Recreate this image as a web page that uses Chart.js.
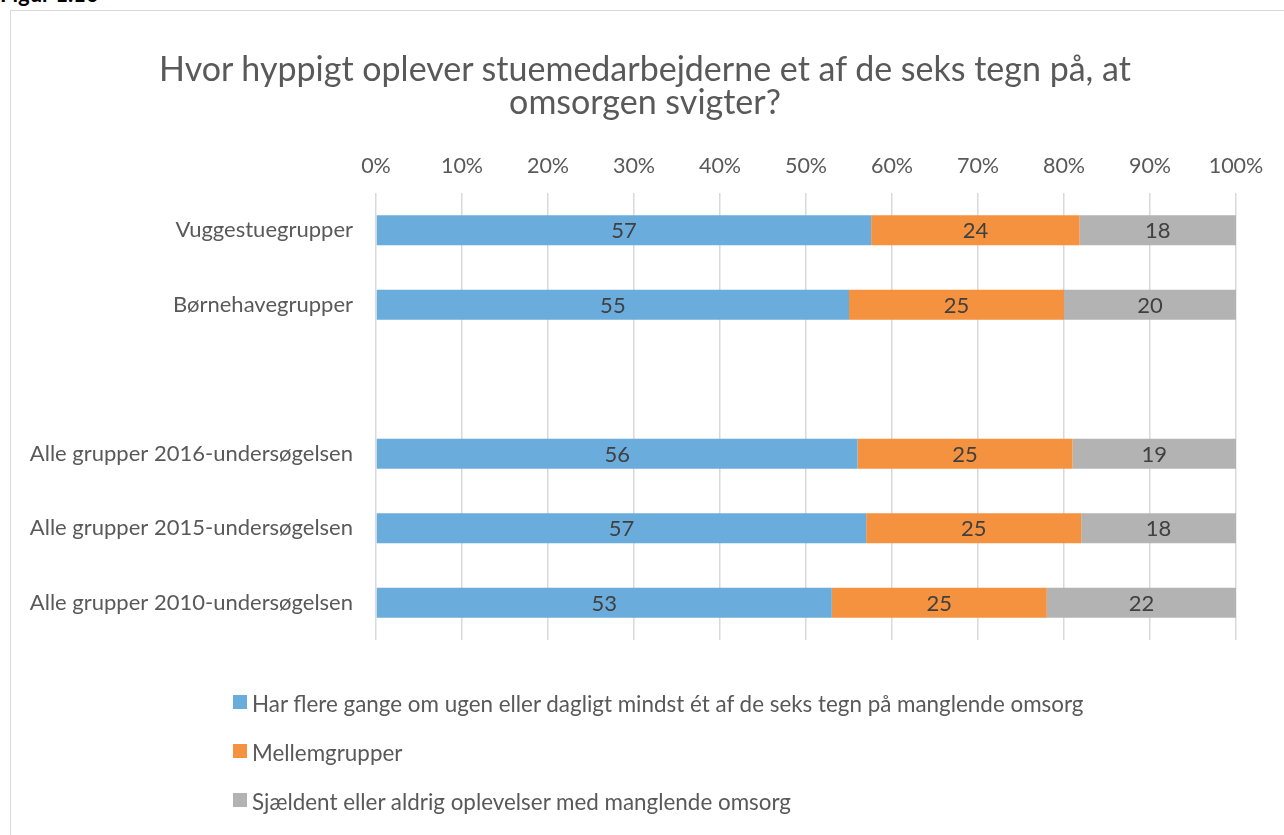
<!DOCTYPE html>
<html>
<head>
<meta charset="utf-8">
<script src="https://cdn.jsdelivr.net/npm/chart.js@4"></script>
<style>
  html, body { margin: 0; padding: 0; background: #fff; overflow: hidden; }
  body { width: 1284px; height: 835px; position: relative; font-family: Lato, "Open Sans", sans-serif; }
  #fig { position: absolute; left: 0; top: -20px; font-weight: bold; font-size: 22px; color: #000; }
  #frame { position: absolute; left: 10px; top: 10px; width: 1400px; height: 900px; border-left: 1.5px solid #d9d9d9; border-top: 1.5px solid #d9d9d9; }
  #wrap { position: absolute; left: 0; top: 0; width: 1284px; height: 835px; }
  #title { position: absolute; left: 145px; width: 1000px; top: 51px; text-align: center; color: #595959; font-size: 34px; line-height: 33px; }
  #legend { position: absolute; left: 233px; top: 690px; color: #595959; font-size: 22.4px; }
  .li { height: 49px; line-height: 27px; display: flex; align-items: flex-start; }
  .sw { width: 14px; height: 14px; margin-top: 5px; margin-right: 5px; flex: none; }
</style>
</head>
<body>
<div id="fig">Figur 1.10</div>
<div id="frame"></div>
<div id="wrap"><canvas id="c" width="1284" height="835"></canvas></div>
<div id="title"></div>
<div id="legend"></div>
<script>
const titleLines = ['Hvor hyppigt oplever stuemedarbejderne et af de seks tegn på, at', 'omsorgen svigter?'];
const categories = ['Vuggestuegrupper', 'Børnehavegrupper', '', 'Alle grupper 2016-undersøgelsen', 'Alle grupper 2015-undersøgelsen', 'Alle grupper 2010-undersøgelsen'];
const seriesNames = ['Har flere gange om ugen eller dagligt mindst ét af de seks tegn på manglende omsorg', 'Mellemgrupper', 'Sjældent eller aldrig oplevelser med manglende omsorg'];
const seriesColors = ['#6aacdc', '#f4923f', '#b3b3b3'];
const ofteValues = [57, 55, null, 56, 57, 53];
const mellemValues = [24, 25, null, 25, 25, 25];
const sjaeldentValues = [18, 20, null, 19, 18, 22];
const xTicks = [0, 10, 20, 30, 40, 50, 60, 70, 80, 90, 100];

const FONT = 'Lato, "Open Sans", sans-serif';
const raw = [ofteValues, mellemValues, sjaeldentValues];
const totals = categories.map((_, i) => raw.reduce((s, arr) => s + (arr[i] || 0), 0));
const datasets = raw.map((arr, k) => ({
  label: seriesNames[k],
  rawValues: arr,
  data: arr.map((v, i) => v == null ? null : v / totals[i] * 100),
  backgroundColor: seriesColors[k],
  borderWidth: 0,
  categoryPercentage: 1,
  barPercentage: 0.4
}));

const labelPlugin = {
  id: 'vals',
  afterDatasetsDraw(chart) {
    const ctx = chart.ctx;
    ctx.save();
    ctx.font = '22px ' + FONT;
    ctx.fillStyle = '#404040';
    ctx.textAlign = 'center';
    ctx.textBaseline = 'middle';
    chart.data.datasets.forEach((ds, di) => {
      const meta = chart.getDatasetMeta(di);
      meta.data.forEach((el, i) => {
        const v = ds.rawValues[i];
        if (v == null) return;
        const cx = (el.x + el.base) / 2;
        ctx.fillText(String(v), cx, el.y + 1);
      });
    });
    ctx.restore();
  }
};

new Chart(document.getElementById('c'), {
  type: 'bar',
  data: { labels: categories, datasets },
  options: {
    indexAxis: 'y',
    responsive: false,
    animation: false,
    layout: { padding: { left: 0, right: 48, top: 117.5, bottom: 195 } },
    plugins: {
      legend: { display: false },
      tooltip: { enabled: false },
      title: { display: false }
    },
    scales: {
      x: {
        position: 'top',
        stacked: true,
        min: 0,
        max: 100,
        afterBuildTicks(scale) { scale.ticks = xTicks.map(v => ({ value: v })); },
        afterFit(scale) { scale.height = 75.5; },
        ticks: {
          color: '#595959',
          font: { family: FONT, size: 21.5 },
          padding: 14,
          maxRotation: 0,
          callback: v => v + '%'
        },
        grid: { color: '#d9d9d9', lineWidth: 1.5, drawTicks: false },
        border: { display: false }
      },
      y: {
        stacked: true,
        afterFit(scale) { scale.width = 376; },
        ticks: {
          color: '#595959',
          font: { family: FONT, size: 22 },
          padding: 15
        },
        grid: { display: false },
        border: { display: false }
      }
    }
  },
  plugins: [labelPlugin]
});

const tt = document.getElementById('title');
titleLines.forEach(line => {
  const d = document.createElement('div');
  d.textContent = line;
  tt.appendChild(d);
});

const lg = document.getElementById('legend');
seriesNames.forEach((n, k) => {
  const d = document.createElement('div');
  d.className = 'li';
  const s = document.createElement('span');
  s.className = 'sw';
  s.style.background = seriesColors[k];
  const t = document.createElement('span');
  t.textContent = n;
  d.appendChild(s); d.appendChild(t);
  lg.appendChild(d);
});
</script>
</body>
</html>
